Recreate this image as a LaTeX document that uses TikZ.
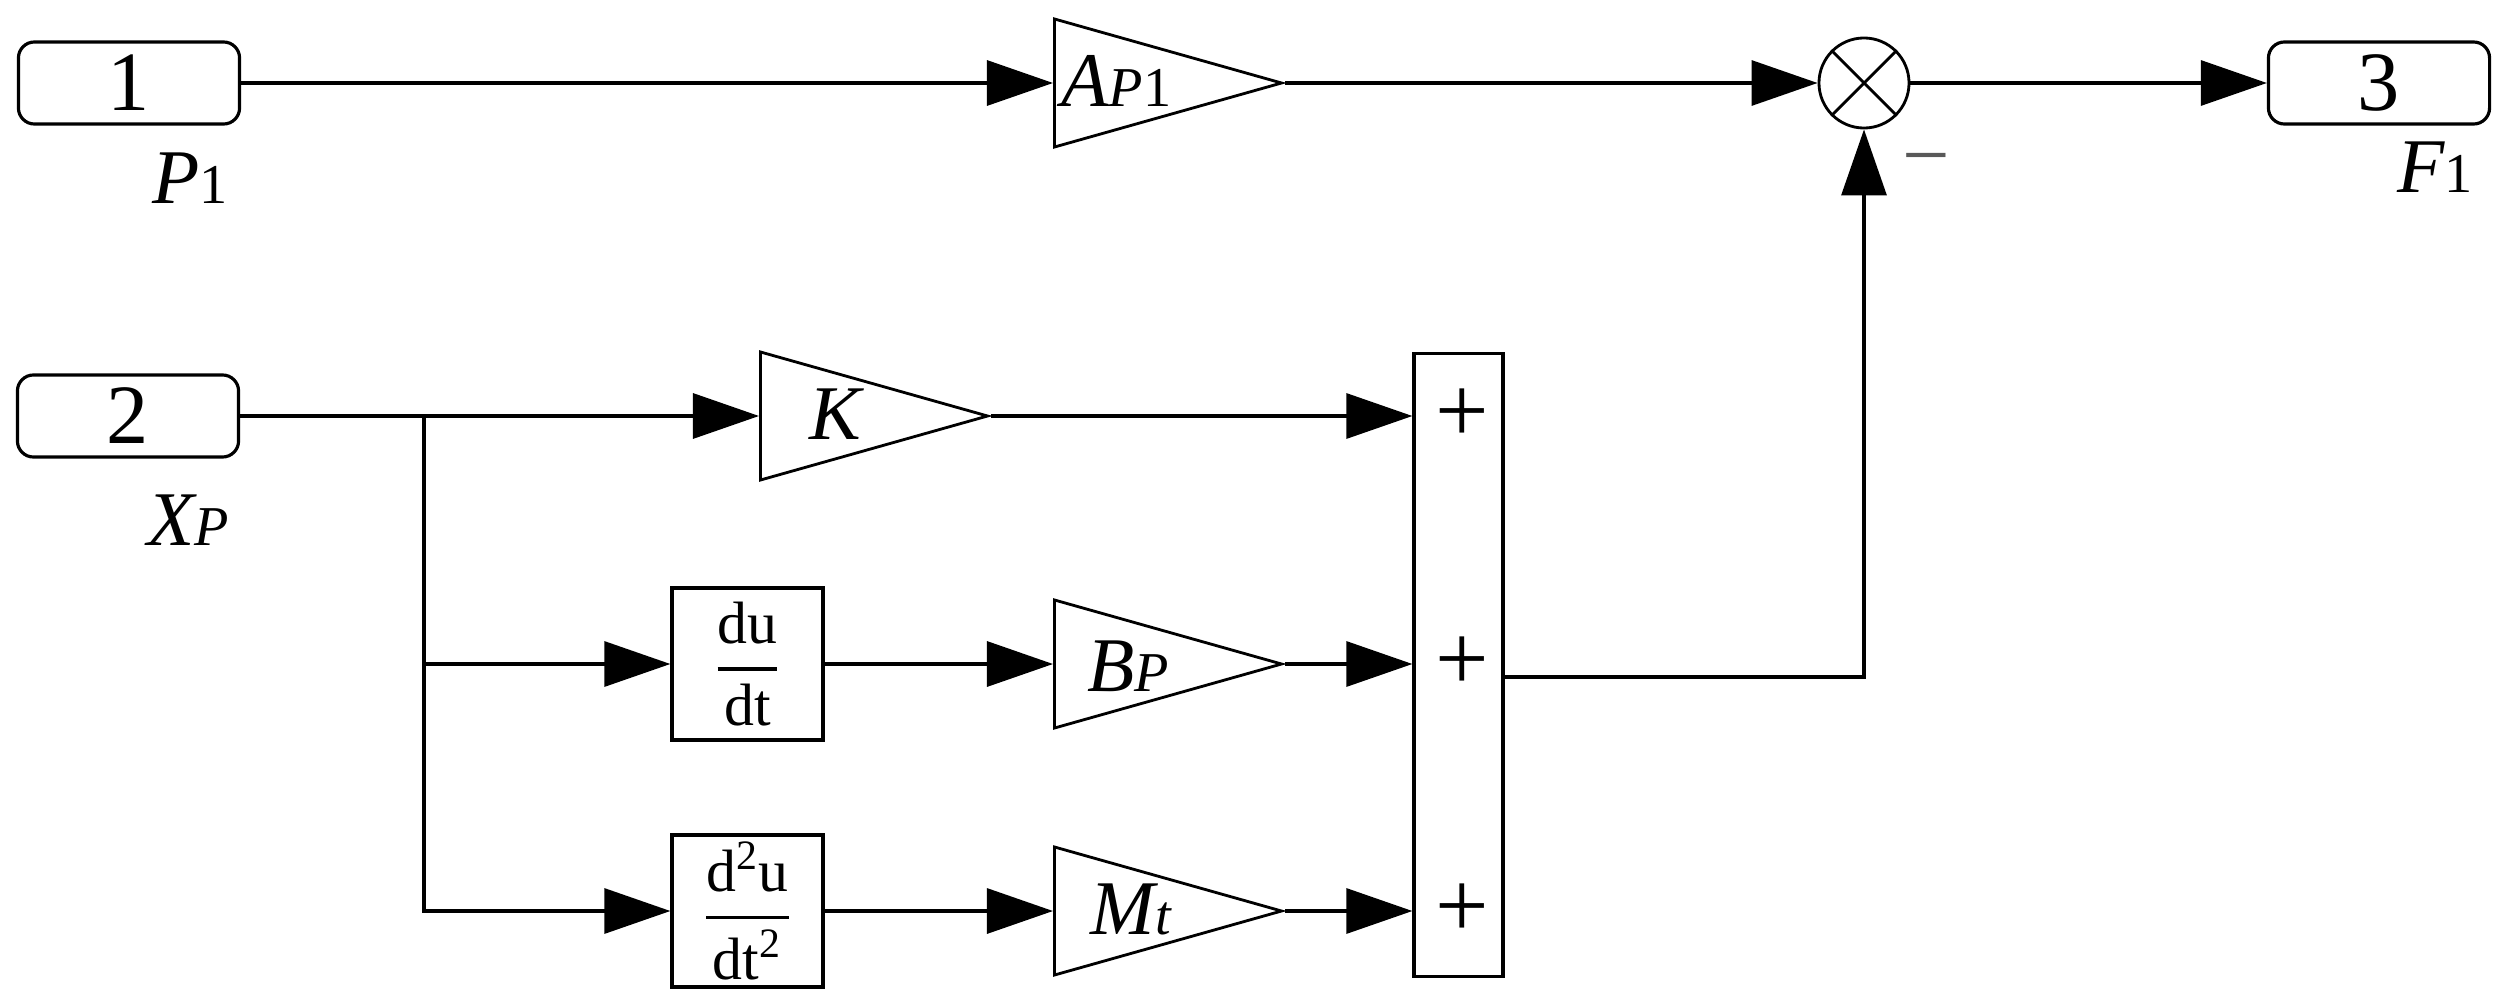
\documentclass[tikz,border=0pt]{standalone}
\usepackage{fontspec}
\setmainfont{Liberation Serif}
\usetikzlibrary{arrows.meta,shapes.geometric}
\newcommand{\bigtxt}{\fontsize{22}{22}\selectfont}
\newcommand{\subtxt}{\fontsize{16}{16}\selectfont}
\newcommand{\digtxt}{\fontsize{24}{24}\selectfont}
\newcommand{\frtxt}{\fontsize{17}{17}\selectfont}
\begin{document}
\begin{tikzpicture}[x=0.01cm,y=-0.01cm,
  port/.style={draw, line width=0.9pt, rounded corners=0.16cm, minimum width=2.21cm, minimum height=0.82cm, inner sep=0},
  gain/.style={draw, line width=0.8pt, isosceles triangle, isosceles triangle stretches=true, shape border rotate=0, minimum width=1.28cm, minimum height=2.27cm, inner sep=0, anchor=lower side},
  opbox/.style={draw, line width=0.9pt, minimum width=1.51cm, minimum height=1.52cm, inner sep=0},
  lbl/.style={inner sep=0, anchor=base west},
  wire/.style={line width=0.9pt},
  arr/.style={wire, -{Triangle[length=0.66cm,width=0.45cm]}}
]
\useasboundingbox (0,0) rectangle (2511,1000);

% top row
\node[port] (p1) at (129,83) {\digtxt 1};
\node[lbl] (lp1) at (152,203) {\bigtxt\itshape P\subtxt\upshape 1};
\node[gain] (gA) at (1053,83) {};
\node[lbl] (tA) at (1061,106) {\bigtxt\itshape A\subtxt P\upshape 1};
\node[draw, circle, minimum size=0.9cm, inner sep=0, line width=0.8pt] (mul) at (1864,83) {};
\draw[line width=0.8pt] (mul.45) -- (mul.225) (mul.135) -- (mul.315);
\node[port] (p3) at (2379,83) {\digtxt 3};
\node[lbl] (lf1) at (2397,192) {\bigtxt\itshape F\subtxt\upshape 1};
\node[text=black!65, inner sep=0] (minus) at (1926,168) {\digtxt −};

% lower part
\node[port] (p2) at (128,416) {\digtxt 2};
\node[lbl] (lxp) at (147,545) {\bigtxt\itshape X\subtxt P};
\coordinate (br) at (424,416);
\node[gain] (gK) at (759,416) {};
\node[lbl] (tK) at (809,439) {\bigtxt\itshape K};
\node[opbox] (d1) at (747.5,664) {\frtxt$\displaystyle{\mbox{du}\above 1pt\mbox{dt}}$};
\node[opbox] (d2) at (747.5,911) {\frtxt$\displaystyle{\mbox{d\textsuperscript{2}u}\above 1pt\mbox{dt\textsuperscript{2}}}$};
\node[gain] (gB) at (1053,664) {};
\node[lbl] (tB) at (1087,691) {\bigtxt\itshape B\subtxt P};
\node[gain] (gM) at (1053,911) {};
\node[lbl] (tM) at (1090,934) {\bigtxt\itshape M\subtxt t};
\node[draw, line width=0.9pt, minimum width=0.89cm, minimum height=6.22cm, inner sep=0] (sum) at (1458.5,665) {};
\node[inner sep=0] (pl1) at (1462,416) {\fontsize{27}{27}\selectfont +};
\node[inner sep=0] (pl2) at (1462,664) {\fontsize{27}{27}\selectfont +};
\node[inner sep=0] (pl3) at (1462,911) {\fontsize{27}{27}\selectfont +};

% connectors
\draw[arr] (p1.east) -- (gA.lower side);
\draw[arr] (gA.apex) -- (mul.west);
\draw[arr] (mul.east) -- (p3.west);
\draw[arr] (p2.east) -- (gK.lower side);
\draw[arr] (br) |- (d1.west);
\draw[arr] (br) |- (d2.west);
\draw[arr] (d1.east) -- (gB.lower side);
\draw[arr] (d2.east) -- (gM.lower side);
\draw[arr] (gK.apex) -- (gK.apex -| sum.west);
\draw[arr] (gB.apex) -- (gB.apex -| sum.west);
\draw[arr] (gM.apex) -- (gM.apex -| sum.west);
\draw[arr] ([yshift=-0.12cm]sum.east) -| (mul.south);
\end{tikzpicture}
\end{document}
